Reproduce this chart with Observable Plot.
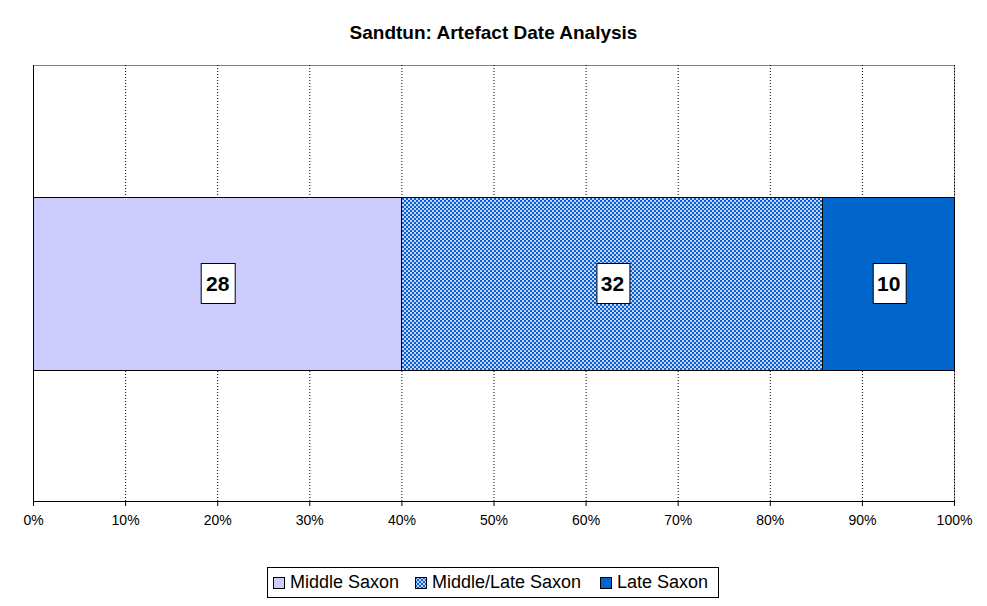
<!DOCTYPE html>
<html>
<head>
<meta charset="utf-8">
<script src="https://cdn.jsdelivr.net/npm/d3@7"></script>
<script src="https://cdn.jsdelivr.net/npm/@observablehq/plot@0.6"></script>
<style>
  html, body { margin: 0; padding: 0; background: #fff; }
  #wrap { position: relative; width: 987px; height: 606px; font-family: "Liberation Sans", Arial, sans-serif; }
  #title { position: absolute; left: 0; top: 22px; width: 987px; text-align: center; font-weight: bold; font-size: 19px; line-height: 22px; color: #000; }
  #chart { position: absolute; left: 0; top: 0; }
  #legend { position: absolute; left: 267px; top: 567px; width: 450px; height: 29px; border: 1px solid #000; background: #fff; }
  .item { position: absolute; top: 0; height: 29px; display: flex; align-items: center; font-size: 18px; color: #000; white-space: nowrap; }
  .item svg { margin-right: 5px; }
  .crisp rect, .crisp path, .crisp line { shape-rendering: crispEdges; }
</style>
</head>
<body>
<div id="wrap">
  <div id="chart"></div>
  <div id="title">Sandtun: Artefact Date Analysis</div>
  <div id="legend"></div>
</div>
<script>
// ---- data ----
const categories = ["Middle Saxon", "Middle/Late Saxon", "Late Saxon"];
const counts = [28, 32, 10];
const fills = ["#ccccff", "url(#mlPattern)", "#0066cc"];
const rowLabel = "Sandtun";
const xTicks = [0, 0.1, 0.2, 0.3, 0.4, 0.5, 0.6, 0.7, 0.8, 0.9, 1];
const legendLeft = [5, 147, 332];

const data = categories.map((c, i) => ({ period: c, count: counts[i], row: rowLabel }));

const plot = Plot.plot({
  width: 987,
  height: 606,
  marginLeft: 33,
  marginRight: 33,
  marginTop: 65,
  marginBottom: 105,
  style: { fontFamily: "Liberation Sans, Arial, sans-serif", background: "transparent", overflow: "visible" },
  x: { domain: [0, 1], label: null },
  y: { domain: [rowLabel], padding: 0.432, axis: null },
  color: { domain: categories, range: fills },
  marks: [
    Plot.frame({ stroke: "#808080", className: "crisp" }),
    Plot.gridX(xTicks, { stroke: "#000", strokeOpacity: 1, strokeDasharray: "1,2" }),
    Plot.frame({ anchor: "left", stroke: "#000", className: "crisp" }),
    Plot.barX(data, Plot.stackX({ offset: "normalize", x: "count", y: "row", fill: "period", stroke: "#000", strokeWidth: 1, className: "crisp" })),
    Plot.text(data, Plot.stackX({ offset: "normalize", x: "count", y: "row", z: "period", text: d => String(d.count), fontWeight: "bold", fontSize: 21, fill: "#000", className: "vlabel" })),
    Plot.frame({ anchor: "bottom", stroke: "#000", className: "crisp" }),
    Plot.axisX(xTicks, { tickFormat: d3.format(".0%"), tickSize: 5, tickPadding: 9, fontSize: 14, stroke: "#000", fill: "#000" })
  ]
});

document.getElementById("chart").appendChild(plot);

// pattern definition for Middle/Late Saxon
const svg = d3.select(plot);
function addPattern(sel, id) {
  const defs = sel.insert("defs", ":first-child");
  const p = defs.append("pattern").attr("id", id).attr("patternUnits", "userSpaceOnUse")
    .attr("width", 4).attr("height", 4);
  p.append("rect").attr("width", 4).attr("height", 4).attr("fill", "#ccccff");
  p.append("rect").attr("x", 0).attr("y", 0).attr("width", 2).attr("height", 2).attr("fill", "#0066cc");
  p.append("rect").attr("x", 2).attr("y", 2).attr("width", 2).attr("height", 2).attr("fill", "#0066cc");
}
addPattern(svg, "mlPattern");

// white boxes behind value labels
svg.selectAll("g.vlabel text").each(function () {
  const bb = this.getBBox();
  const w = Math.round(bb.width + 10), h = 40;
  const cx = bb.x + bb.width / 2, cy = bb.y + bb.height / 2;
  const r = d3.select(this.parentNode).insert("rect", () => this)
    .attr("x", Math.round(cx - w / 2) + 0.5).attr("y", Math.round(cy - h / 2) + 0.5)
    .attr("width", w).attr("height", h)
    .attr("fill", "#fff").attr("stroke", "#000").attr("stroke-width", 1);
  const tr = this.getAttribute("transform");
  if (tr) r.attr("transform", tr);
});

// legend
const legend = d3.select("#legend");
categories.forEach((c, i) => {
  const item = legend.append("div").attr("class", "item").style("left", legendLeft[i] + "px");
  const s = item.append("svg").attr("width", 12).attr("height", 12);
  if (i === 1) addPattern(s, "mlPatternLegend");
  s.append("rect").attr("x", 0.5).attr("y", 0.5).attr("width", 11).attr("height", 11)
    .attr("fill", i === 1 ? "url(#mlPatternLegend)" : fills[i]).attr("stroke", "#000");
  item.append("span").text(c);
});
</script>
</body>
</html>
